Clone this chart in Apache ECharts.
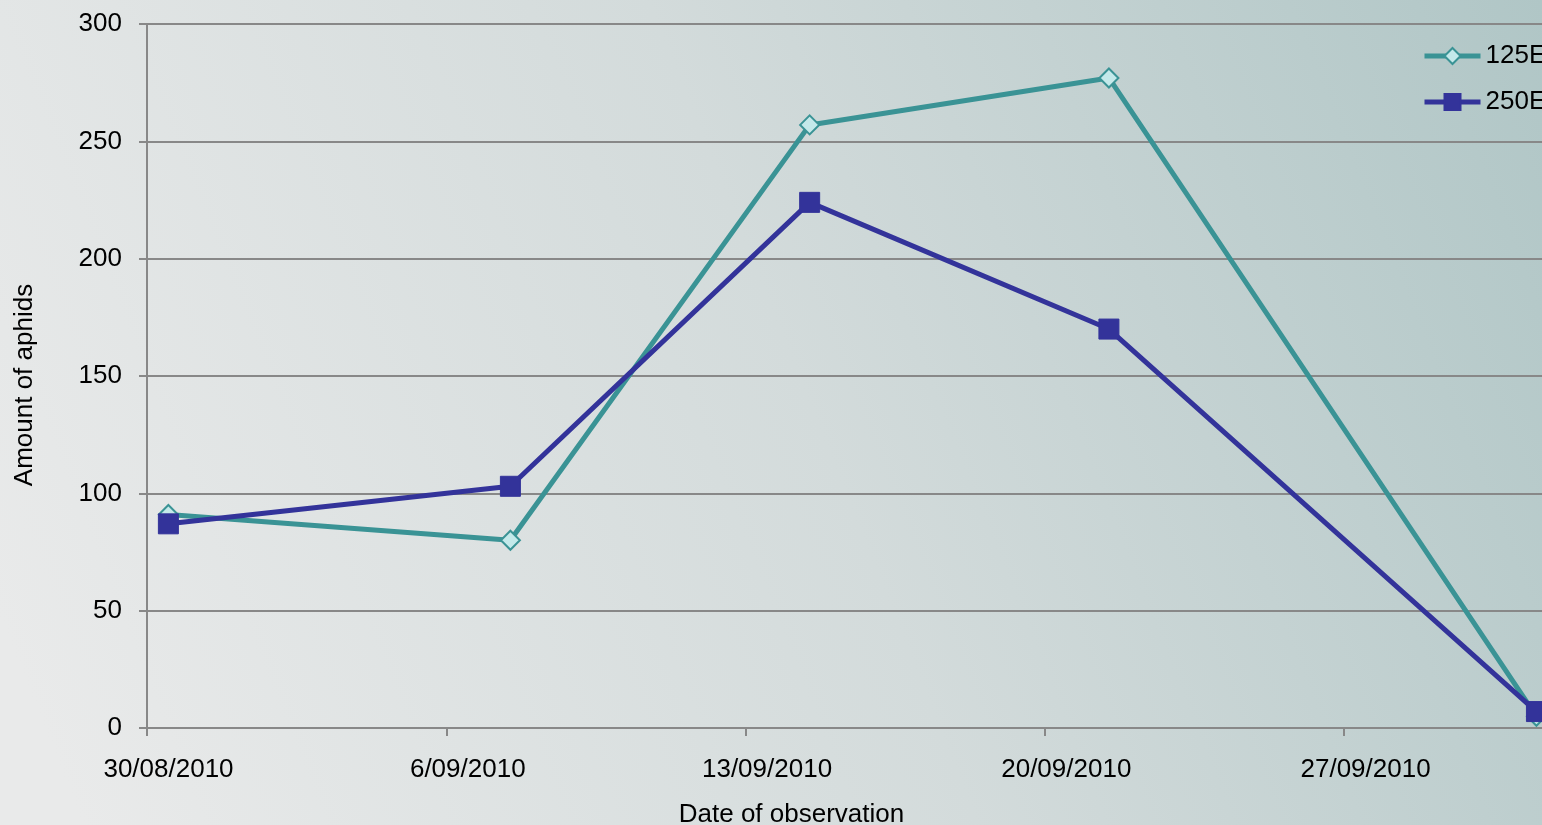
<!DOCTYPE html>
<html>
<head>
<meta charset="utf-8">
<script src="https://cdn.jsdelivr.net/npm/echarts@6/dist/echarts.min.js"></script>
<style>
html,body{margin:0;padding:0;width:1542px;height:825px;overflow:hidden;}
#chart{width:1542px;height:825px;}
</style>
</head>
<body>
<div id="chart"></div>
<script>
// Data
const dates = ['2010-08-30', '2010-09-07', '2010-09-14', '2010-09-21', '2010-10-01'];
const series125E = [91, 80, 257, 277, 5];
const series250E = [87, 103, 224, 170, 7];
const seriesNames = ['125E', '250E'];
const yTicks = [0, 50, 100, 150, 200, 250, 300];
const axisStart = '2010-08-30';

const DAY = 86400000;
function ms(s){ const p = s.split('-').map(Number); return Date.UTC(p[0], p[1]-1, p[2]); }
const t0 = ms(axisStart);
// Excel date axis: points sit in the middle of their day
const xs = dates.map(d => (ms(d) - t0) / DAY + 0.5);
function fmt(v){
  const d = new Date(t0 + v * DAY);
  const mm = String(d.getUTCMonth()+1).padStart(2,'0');
  return d.getUTCDate() + '/' + mm + '/' + d.getUTCFullYear();
}

const chart = echarts.init(document.getElementById('chart'));
const font = 'Liberation Sans, Arial, sans-serif';
chart.setOption({
  backgroundColor: new echarts.graphic.LinearGradient(0, 0.75, 1, 0, [
    {offset: 0, color: '#e9eaea'},
    {offset: 0.5, color: '#d3dbdb'},
    {offset: 1, color: '#b0c6c6'}
  ]),
  textStyle: {fontFamily: font},
  grid: {left: 147, top: 24, right: 0, height: 704, containLabel: false, outerBoundsMode: 'none'},
  legend: {
    left: 1422, top: 43, orient: 'vertical', itemGap: 20, padding: 0,
    itemWidth: 56, itemHeight: 20,
    lineStyle: {width: 5},
    textStyle: {fontSize: 26, color: '#000', fontFamily: font},
    data: seriesNames
  },
  xAxis: {
    type: 'value', min: 0, max: 32.63, interval: 7,
    name: 'Date of observation', nameLocation: 'middle', nameGap: 74,
    nameTextStyle: {fontSize: 26, color: '#000', fontFamily: font, padding: [0, 106, 0, 0]},
    axisLine: {show: true, lineStyle: {color: '#888', width: 2}},
    axisTick: {show: true, length: 8, lineStyle: {color: '#888', width: 2}},
    splitLine: {show: false},
    axisLabel: {
      fontSize: 26, color: '#000', margin: 29, padding: [0, 0, 0, 43],
      showMaxLabel: false,
      formatter: v => (Math.abs(v % 7) < 1e-6 ? fmt(v) : '')
    }
  },
  yAxis: {
    type: 'value', min: yTicks[0], max: yTicks[yTicks.length-1], interval: 50,
    name: 'Amount of aphids', nameLocation: 'middle', nameGap: 109, nameRotate: 90,
    nameTextStyle: {fontSize: 26, color: '#000', fontFamily: font, padding: [0, 18, 0, 0]},
    axisLine: {show: true, lineStyle: {color: '#888', width: 2}},
    axisTick: {show: true, length: 8, lineStyle: {color: '#888', width: 2}},
    splitLine: {show: true, lineStyle: {color: '#888', width: 2}},
    axisLabel: {fontSize: 26, color: '#000', margin: 25}
  },
  series: [
    {
      name: seriesNames[0], type: 'line',
      data: xs.map((x, i) => [x, series125E[i]]),
      symbol: 'diamond', symbolSize: 19,
      lineStyle: {color: '#3a9395', width: 5},
      itemStyle: {color: '#c4e9ea', borderColor: '#3a9395', borderWidth: 2},
      z: 2
    },
    {
      name: seriesNames[1], type: 'line',
      data: xs.map((x, i) => [x, series250E[i]]),
      symbol: 'rect', symbolSize: 20,
      lineStyle: {color: '#33339a', width: 5},
      itemStyle: {color: '#33339a', borderColor: '#33339a', borderWidth: 1},
      z: 3
    }
  ],
  animation: false
});
</script>
</body>
</html>
